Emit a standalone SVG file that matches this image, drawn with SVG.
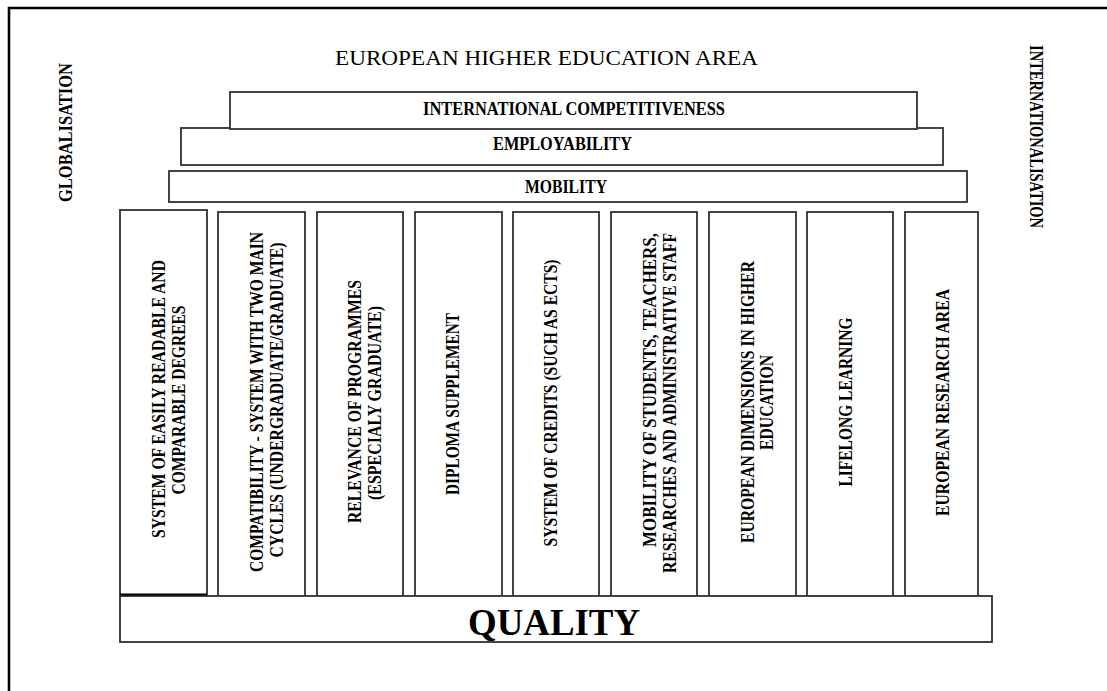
<svg xmlns="http://www.w3.org/2000/svg" width="1107" height="691" viewBox="0 0 1107 691">
<style>
.box{fill:#fff;stroke:#3c3c3c;stroke-width:1.9}
.lbl{font-family:"Liberation Serif","Times New Roman",serif;font-weight:bold;font-size:18px;fill:#000;text-anchor:middle}
.ttl{font-family:"Liberation Serif","Times New Roman",serif;font-size:20px;fill:#000;text-anchor:middle}
.big{font-family:"Liberation Serif","Times New Roman",serif;font-weight:bold;font-size:37px;fill:#000;text-anchor:middle}
</style>
<rect width="1107" height="691" fill="#fff"/>
<path d="M9,691 V8 H1107" fill="none" stroke="#000" stroke-width="2.6"/>

<g id="title"><text class="ttl" x="546.5" y="65" textLength="423" lengthAdjust="spacingAndGlyphs">EUROPEAN HIGHER EDUCATION AREA</text></g>
<g id="globalisation"><text class="lbl" transform="translate(72,132.5) rotate(-90)" textLength="139" lengthAdjust="spacingAndGlyphs">GLOBALISATION</text></g>
<g id="internationalisation"><text class="lbl" transform="translate(1030,136.5) rotate(90)" textLength="183" lengthAdjust="spacingAndGlyphs">INTERNATIONALISATION</text></g>

<g id="employability"><rect class="box" x="181" y="128" width="762" height="37"/>
<text class="lbl" x="562.5" y="150" textLength="139" lengthAdjust="spacingAndGlyphs">EMPLOYABILITY</text></g>
<g id="competitiveness"><rect class="box" x="230" y="92" width="687" height="37"/>
<text class="lbl" x="574" y="115" textLength="302" lengthAdjust="spacingAndGlyphs">INTERNATIONAL COMPETITIVENESS</text></g>
<g id="mobility"><rect class="box" x="169" y="171" width="798" height="31"/>
<text class="lbl" x="566" y="193" textLength="82" lengthAdjust="spacingAndGlyphs">MOBILITY</text></g>

<g id="pillar1"><rect class="box" x="120" y="210" width="87" height="385"/>
<text class="lbl" transform="translate(165,399) rotate(-90)" textLength="278" lengthAdjust="spacingAndGlyphs">SYSTEM OF EASILY READABLE AND</text>
<text class="lbl" transform="translate(185,400) rotate(-90)" textLength="189" lengthAdjust="spacingAndGlyphs">COMPARABLE DEGREES</text></g>
<g id="pillar2"><rect class="box" x="218" y="212" width="87" height="384"/>
<text class="lbl" transform="translate(263,402) rotate(-90)" textLength="340" lengthAdjust="spacingAndGlyphs">COMPATIBILITY - SYSTEM WITH TWO MAIN</text>
<text class="lbl" transform="translate(283,400) rotate(-90)" textLength="315" lengthAdjust="spacingAndGlyphs">CYCLES (UNDERGRADUATE/GRADUATE)</text></g>
<g id="pillar3"><rect class="box" x="317" y="212" width="86" height="384"/>
<text class="lbl" transform="translate(361,401.5) rotate(-90)" textLength="243" lengthAdjust="spacingAndGlyphs">RELEVANCE OF PROGRAMMES</text>
<text class="lbl" transform="translate(381,403) rotate(-90)" textLength="194" lengthAdjust="spacingAndGlyphs">(ESPECIALY GRADUATE)</text></g>
<g id="pillar4"><rect class="box" x="415" y="212" width="87" height="384"/>
<text class="lbl" transform="translate(459,404) rotate(-90)" textLength="182" lengthAdjust="spacingAndGlyphs">DIPLOMA SUPPLEMENT</text></g>
<g id="pillar5"><rect class="box" x="513" y="212" width="86" height="384"/>
<text class="lbl" transform="translate(557,403) rotate(-90)" textLength="287" lengthAdjust="spacingAndGlyphs">SYSTEM OF CREDITS (SUCH AS ECTS)</text></g>
<g id="pillar6"><rect class="box" x="611" y="212" width="86" height="384"/>
<text class="lbl" transform="translate(656,390) rotate(-90)" textLength="314" lengthAdjust="spacingAndGlyphs">MOBILITY OF STUDENTS, TEACHERS,</text>
<text class="lbl" transform="translate(676,403) rotate(-90)" textLength="340" lengthAdjust="spacingAndGlyphs">RESEARCHES AND ADMINISTRATIVE STAFF</text></g>
<g id="pillar7"><rect class="box" x="709" y="212" width="87" height="384"/>
<text class="lbl" transform="translate(754,402) rotate(-90)" textLength="282" lengthAdjust="spacingAndGlyphs">EUROPEAN DIMENSIONS IN HIGHER</text>
<text class="lbl" transform="translate(773,402.5) rotate(-90)" textLength="95" lengthAdjust="spacingAndGlyphs">EDUCATION</text></g>
<g id="pillar8"><rect class="box" x="807" y="212" width="86" height="384"/>
<text class="lbl" transform="translate(852,402) rotate(-90)" textLength="169" lengthAdjust="spacingAndGlyphs">LIFELONG LEARNING</text></g>
<g id="pillar9"><rect class="box" x="905" y="212" width="73" height="384"/>
<text class="lbl" transform="translate(949,402.5) rotate(-90)" textLength="227" lengthAdjust="spacingAndGlyphs">EUROPEAN RESEARCH AREA</text></g>

<g id="quality"><rect class="box" x="120" y="596" width="872" height="46"/>
<line x1="120" y1="594.5" x2="207" y2="594.5" stroke="#000" stroke-width="2"/>
<text class="big" x="554" y="635" textLength="172" lengthAdjust="spacingAndGlyphs">QUALITY</text></g>
</svg>
